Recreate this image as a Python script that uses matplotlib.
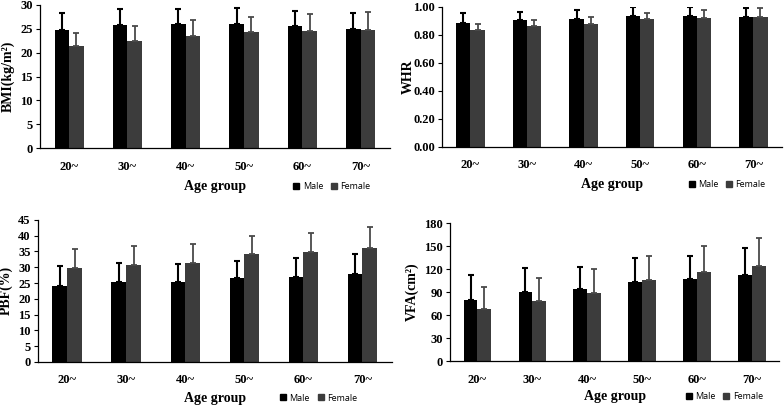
import numpy as np
import matplotlib
matplotlib.use('Agg')
import matplotlib.pyplot as plt
from matplotlib.lines import Line2D

# age groups
groups = ['20~', '30~', '40~', '50~', '60~', '70~']

# BMI (kg/m2): mean and upper end of error bar
bmi_male = [24.8, 25.7, 25.9, 25.9, 25.6, 24.9]
bmi_male_top = [28.2, 29.2, 29.2, 29.3, 28.7, 28.4]
bmi_female = [21.4, 22.5, 23.5, 24.3, 24.6, 24.8]
bmi_female_top = [24.2, 25.6, 26.8, 27.5, 28.0, 28.6]

# WHR
whr_male = [0.885, 0.907, 0.916, 0.933, 0.938, 0.931]
whr_male_top = [0.955, 0.964, 0.978, 0.998, 1.002, 0.995]
whr_female = [0.835, 0.861, 0.880, 0.911, 0.921, 0.928]
whr_female_top = [0.878, 0.904, 0.931, 0.957, 0.978, 0.995]

# PBF (%)
pbf_male = [23.9, 25.4, 25.4, 26.5, 27.0, 27.7]
pbf_male_top = [30.5, 31.2, 30.9, 32.0, 32.8, 34.3]
pbf_female = [29.9, 30.7, 31.5, 34.2, 34.8, 36.1]
pbf_female_top = [35.7, 36.6, 37.5, 39.9, 40.8, 42.7]

# VFA (cm2)
vfa_male = [79.1, 90.0, 93.9, 102.6, 106.5, 112.6]
vfa_male_top = [112.6, 121.3, 123.0, 133.9, 137.8, 147.4]
vfa_female = [67.4, 78.3, 88.7, 106.0, 116.0, 123.5]
vfa_female_top = [97.0, 108.7, 119.6, 137.8, 149.6, 160.9]

male_col = '#000000'
female_col = '#3c3c3c'
serif = 'Liberation Serif'
sans = 'Open Sans'

fig = plt.figure(figsize=(7.84, 4.08), dpi=100)

panels = [
    # rect, male, male_top, female, female_top, ymax, step, fmt, ylabel, ylabel_x, xlabel_y, legend_x
    ([0.051, 0.637, 0.446, 0.351], bmi_male, bmi_male_top, bmi_female, bmi_female_top,
     30, 5, '{:.0f}', 'BMI(kg/m²)', -0.092, -0.27, 0.70),
    ([0.564, 0.640, 0.433, 0.343], whr_male, whr_male_top, whr_female, whr_female_top,
     1.0, 0.2, '{:.2f}', 'WHR', -0.10, -0.27, 0.70),
    ([0.048, 0.113, 0.452, 0.348], pbf_male, pbf_male_top, pbf_female, pbf_female_top,
     45, 5, '{:.0f}', 'PBF(%)', -0.088, -0.255, 0.66),
    ([0.574, 0.115, 0.420, 0.338], vfa_male, vfa_male_top, vfa_female, vfa_female_top,
     180, 30, '{:.0f}', 'VFA(cm²)', -0.115, -0.26, 0.69),
]

x = np.arange(len(groups))
w = 0.25

for rect, m, mt, f, ft, ymax, step, fmt, ylab, ylx, xly, lgx in panels:
    ax = fig.add_axes(rect)
    m = np.array(m); mt = np.array(mt)
    f = np.array(f); ft = np.array(ft)
    ax.bar(x - w / 2, m, w, color=male_col,
           yerr=[np.zeros_like(m), mt - m], error_kw=dict(ecolor=male_col, elinewidth=1.5,
                                                         capsize=2, capthick=1.5))
    ax.bar(x + w / 2, f, w, color=female_col,
           yerr=[np.zeros_like(f), ft - f], error_kw=dict(ecolor='#4a4a4a', elinewidth=1.3,
                                                         capsize=2, capthick=1.3))
    ax.set_xlim(-0.5, len(groups) - 0.5)
    ax.set_ylim(0, ymax)
    ticks = np.arange(0, ymax + step / 2, step)
    ax.set_yticks(ticks)
    ax.set_yticklabels([fmt.format(t) for t in ticks], fontfamily=serif,
                       fontweight='bold', fontsize=9)
    ax.set_xticks(x)
    ax.set_xticklabels(groups, fontfamily=serif, fontweight='bold', fontsize=9)
    ax.tick_params(axis='x', length=0, pad=9)
    ax.tick_params(axis='y', length=3, width=0.8, pad=2)
    for s in ['top', 'right']:
        ax.spines[s].set_visible(False)
    for s in ['left', 'bottom']:
        ax.spines[s].set_linewidth(0.9)
    ax.set_xlabel('Age group', fontfamily=serif, fontweight='bold', fontsize=10,
                  va='center')
    ax.xaxis.set_label_coords(0.5, xly)
    ax.set_ylabel(ylab, fontfamily=serif, fontweight='bold', fontsize=10, va='center')
    ax.yaxis.set_label_coords(ylx, 0.5)
    handles = [Line2D([], [], marker='s', ls='none', color=male_col, markersize=5),
               Line2D([], [], marker='s', ls='none', color=female_col, markersize=5)]
    ax.legend(handles, ['Male', 'Female'], loc='center left', bbox_to_anchor=(lgx, xly),
              ncol=2, frameon=False, handlelength=0.8, handletextpad=0.3,
              columnspacing=0.8, prop=dict(family=sans, size=6.5))

plt.savefig('out.png', dpi=100)
